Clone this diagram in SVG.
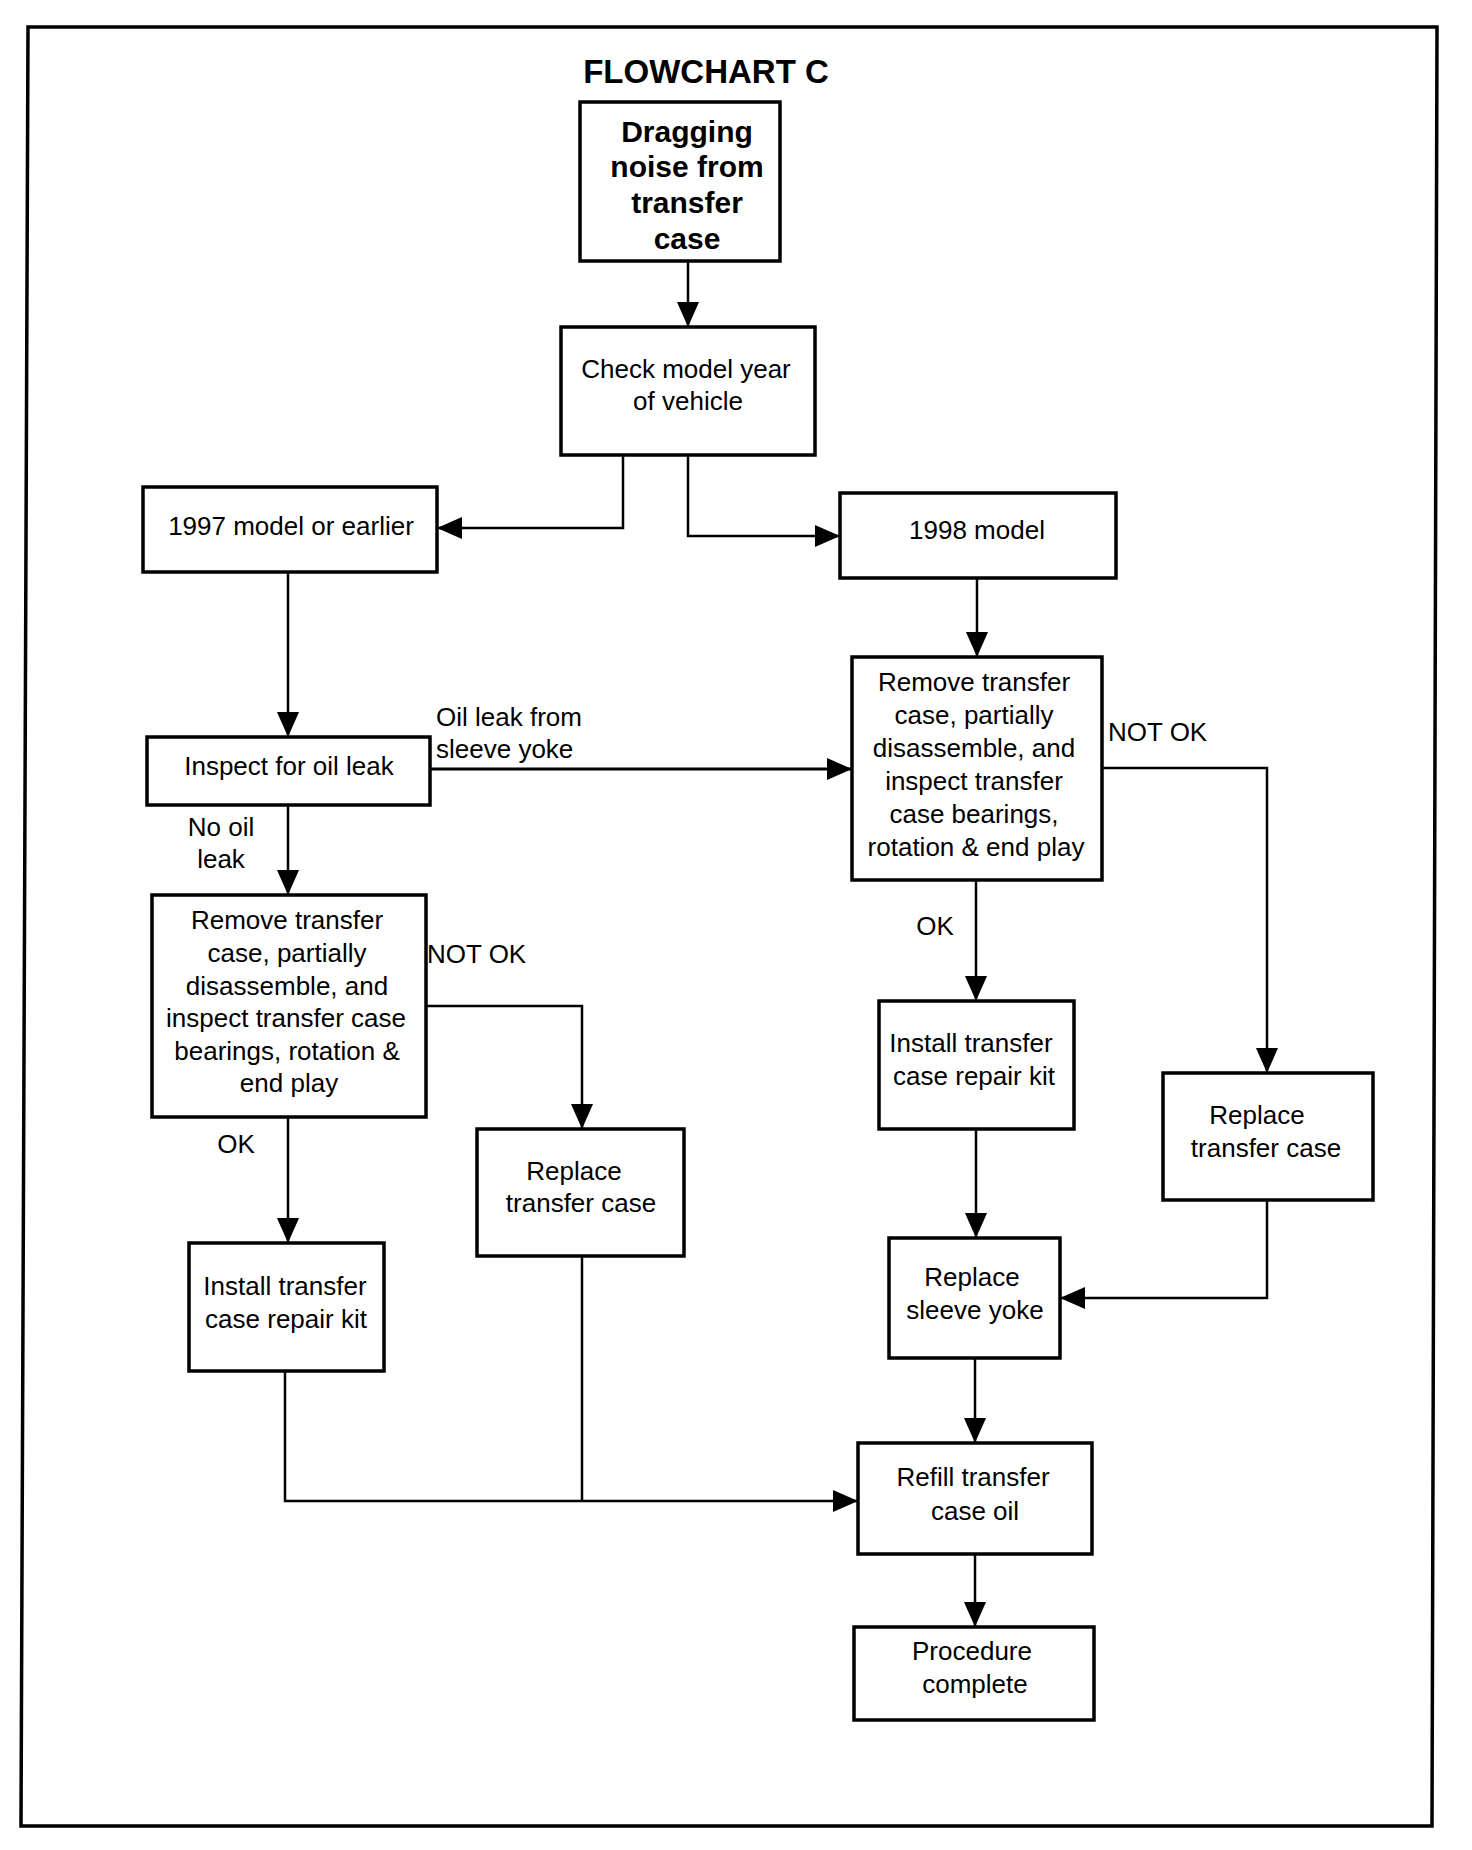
<svg xmlns="http://www.w3.org/2000/svg" width="1472" height="1850" viewBox="0 0 1472 1850">
<style>
.box{fill:#fff;stroke:#000;stroke-width:3.5}
.t{font-family:"Liberation Sans",Arial,sans-serif;font-size:26px;fill:#000;text-anchor:middle}
.tl{font-family:"Liberation Sans",Arial,sans-serif;font-size:26px;fill:#000}
.b{font-weight:bold}
.c{fill:none;stroke:#000;stroke-width:2.5}
</style>
<defs>
<marker id="ah" markerUnits="userSpaceOnUse" markerWidth="25" markerHeight="22" refX="24" refY="11" orient="auto">
<path d="M0,0 L25,11 L0,22 Z" fill="#000"/>
</marker>
</defs>
<rect width="1472" height="1850" fill="#fff"/>
<polygon points="28,27 1437,27 1432,1826 21,1826" fill="none" stroke="#000" stroke-width="3.5"/>
<text class="t b" x="706" y="83" style="font-size:33px">FLOWCHART C</text>

<g id="connectors">
<path class="c" d="M688,261 V326" marker-end="url(#ah)"/>
<path class="c" d="M623,455 V528 H438" marker-end="url(#ah)"/>
<path class="c" d="M688,455 V536 H839" marker-end="url(#ah)"/>
<path class="c" d="M288,572 V736" marker-end="url(#ah)"/>
<path class="c" d="M430,769 H851" marker-end="url(#ah)" style="stroke-width:3"/>
<path class="c" d="M977,578 V656" marker-end="url(#ah)"/>
<path class="c" d="M1102,768 H1267 V1072" marker-end="url(#ah)"/>
<path class="c" d="M976,880 V1000" marker-end="url(#ah)"/>
<path class="c" d="M976,1129 V1237" marker-end="url(#ah)"/>
<path class="c" d="M1267,1200 V1298 H1061" marker-end="url(#ah)"/>
<path class="c" d="M975,1358 V1442" marker-end="url(#ah)"/>
<path class="c" d="M975,1554 V1626" marker-end="url(#ah)"/>
<path class="c" d="M288,805 V894" marker-end="url(#ah)"/>
<path class="c" d="M426,1006 H582 V1128" marker-end="url(#ah)"/>
<path class="c" d="M288,1117 V1242" marker-end="url(#ah)"/>
<path class="c" d="M285,1371 V1501 H857" marker-end="url(#ah)"/>
<path class="c" d="M582,1256 V1501"/>
<text class="tl" x="436" y="726">Oil leak from</text>
<text class="tl" x="436" y="758">sleeve yoke</text>
<text class="tl" x="1108" y="741">NOT OK</text>
<text class="t" x="935" y="935">OK</text>
<text class="t" x="221" y="836">No oil</text>
<text class="t" x="221" y="868">leak</text>
<text class="tl" x="427" y="963">NOT OK</text>
<text class="t" x="236" y="1153">OK</text>
</g>

<g id="n1">
<rect class="box" x="580" y="102" width="200" height="159"/>
<text class="t b" x="687" y="142" style="font-size:30px">Dragging</text>
<text class="t b" x="687" y="177" style="font-size:30px">noise from</text>
<text class="t b" x="687" y="213" style="font-size:30px">transfer</text>
<text class="t b" x="687" y="249" style="font-size:30px">case</text>
</g>
<g id="n2">
<rect class="box" x="561" y="327" width="254" height="128"/>
<text class="t" x="686" y="378">Check model year</text>
<text class="t" x="688" y="410">of vehicle</text>
</g>
<g id="n3">
<rect class="box" x="143" y="487" width="294" height="85"/>
<text class="t" x="291" y="535">1997 model or earlier</text>
</g>
<g id="n4">
<rect class="box" x="840" y="493" width="276" height="85"/>
<text class="t" x="977" y="539">1998 model</text>
</g>
<g id="n5">
<rect class="box" x="147" y="737" width="283" height="68"/>
<text class="t" x="289" y="775">Inspect for oil leak</text>
</g>
<g id="n6">
<rect class="box" x="852" y="657" width="250" height="223"/>
<text class="t" x="974" y="691">Remove transfer</text>
<text class="t" x="974" y="724">case, partially</text>
<text class="t" x="974" y="757">disassemble, and</text>
<text class="t" x="974" y="790">inspect transfer</text>
<text class="t" x="974" y="823">case bearings,</text>
<text class="t" x="976" y="856">rotation &amp; end play</text>
</g>
<g id="n7">
<rect class="box" x="152" y="895" width="274" height="222"/>
<text class="t" x="287" y="929">Remove transfer</text>
<text class="t" x="287" y="962">case, partially</text>
<text class="t" x="287" y="995">disassemble, and</text>
<text class="t" x="286" y="1027">inspect transfer case</text>
<text class="t" x="287" y="1060">bearings, rotation &amp;</text>
<text class="t" x="289" y="1092">end play</text>
</g>
<g id="n8">
<rect class="box" x="879" y="1001" width="195" height="128"/>
<text class="t" x="971" y="1052">Install transfer</text>
<text class="t" x="974" y="1085">case repair kit</text>
</g>
<g id="n9">
<rect class="box" x="1163" y="1073" width="210" height="127"/>
<text class="t" x="1257" y="1124">Replace</text>
<text class="t" x="1266" y="1157">transfer case</text>
</g>
<g id="n10">
<rect class="box" x="477" y="1129" width="207" height="127"/>
<text class="t" x="574" y="1180">Replace</text>
<text class="t" x="581" y="1212">transfer case</text>
</g>
<g id="n11">
<rect class="box" x="189" y="1243" width="195" height="128"/>
<text class="t" x="285" y="1295">Install transfer</text>
<text class="t" x="286" y="1328">case repair kit</text>
</g>
<g id="n12">
<rect class="box" x="889" y="1238" width="171" height="120"/>
<text class="t" x="972" y="1286">Replace</text>
<text class="t" x="975" y="1319">sleeve yoke</text>
</g>
<g id="n13">
<rect class="box" x="858" y="1443" width="234" height="111"/>
<text class="t" x="973" y="1486">Refill transfer</text>
<text class="t" x="975" y="1520">case oil</text>
</g>
<g id="n14">
<rect class="box" x="854" y="1627" width="240" height="93"/>
<text class="t" x="972" y="1660">Procedure</text>
<text class="t" x="975" y="1693">complete</text>
</g>
</svg>
